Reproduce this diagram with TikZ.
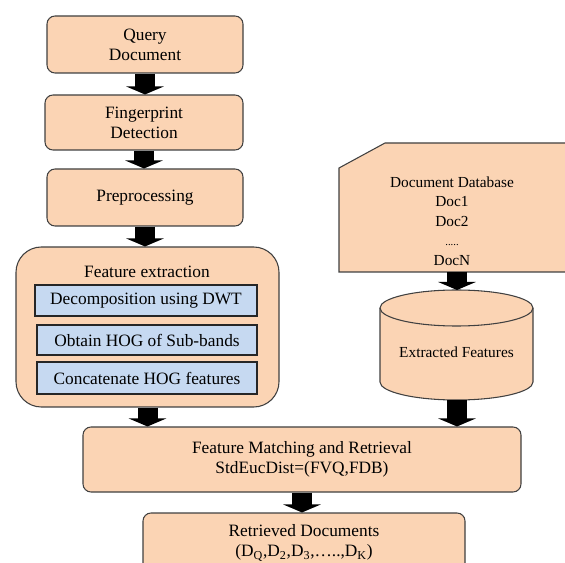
\documentclass[tikz,border=0pt]{standalone}
\usepackage{fontspec}
\setmainfont{Liberation Serif}
\usetikzlibrary{arrows.meta,calc}
\definecolor{peach}{HTML}{FBD4B4}
\definecolor{lblue}{HTML}{C6D9F1}
\definecolor{edgec}{HTML}{404040}
\begin{document}
\begin{tikzpicture}[x=0.75pt,y=-0.75pt,
 box/.style={draw=edgec,fill=peach,line width=0.8pt,rounded corners=6pt,align=center,font=\fontsize{13}{15}\selectfont,inner sep=0pt},
 subbox/.style={draw=black!85,fill=lblue,line width=0.8pt,align=center,font=\fontsize{13}{15}\selectfont,inner sep=0pt},
 smalltext/.style={align=center,font=\fontsize{11.5}{14.6}\selectfont,inner sep=0pt},
 barrow/.style={line width=15pt,-{Triangle[length=6pt,width=28pt]}},
 ]
\useasboundingbox (0,0) rectangle (565,563);
% left column
\node[box,minimum width=147pt,minimum height=42.75pt] (q) at (145,44.5) {Query\\Document};
\node[box,minimum width=148.5pt,minimum height=41.25pt] (f) at (144,122.5) {Fingerprint\\Detection};
\node[box,minimum width=147pt,minimum height=42.75pt] (p) at (145,197.5) {Preprocessing};
\node[box,rounded corners=19pt,minimum width=197.25pt,minimum height=120pt] (fe) at (147.5,327) {};
\node[font=\fontsize{13}{15}\selectfont,inner sep=0pt] (fet) at (147,272) {Feature extraction};
\node[subbox,minimum width=166.5pt,minimum height=23.25pt] (s1) at (146,300.5) {Decomposition using DWT};
\node[subbox,minimum width=165pt,minimum height=22.5pt] (s2) at (147,340) {Obtain HOG of Sub-bands};
\node[subbox,minimum width=165pt,minimum height=24pt] (s3) at (147,378) {Concatenate HOG features};
% bottom
\node[box,minimum width=328.5pt,minimum height=48.75pt] (m) at (302,459.5) {Feature Matching and Retrieval\\StdEucDist=(FVQ,FDB)};
\node[box,minimum width=241.5pt,minimum height=45pt] (r) at (304,543) {Retrieved Documents\\(D\textsubscript{Q},D\textsubscript{2},D\textsubscript{3},\dots..,D\textsubscript{K})};
% document database
\draw[draw=edgec,fill=peach,line width=0.8pt] (339,168) -- (385,143) -- (575,143) -- (575,272) -- (339,272) -- cycle;
\node[smalltext] (db) at (452,221) {Document Database\\Doc1\\Doc2\\{\fontsize{8}{10}\selectfont .....}\\DocN};
\coordinate (dbbot) at (457,272);
% cylinder
\draw[draw=edgec,fill=peach,line width=0.8pt] (380,308) -- (380,382) arc[start angle=180,end angle=0,x radius=76.5,y radius=18] -- (533,308) arc[start angle=0,end angle=-180,x radius=76.5,y radius=18] -- cycle;
\draw[draw=edgec,line width=0.8pt] (380,308) arc[start angle=180,end angle=0,x radius=76.5,y radius=18];
\node[smalltext] (cyl) at (456.5,352) {Extracted Features};
\coordinate (cyltop) at (457,290);
\coordinate (cylbot) at (457,400);
% arrows
\draw[barrow] (q.south) -- (q.south |- f.north);
\draw[barrow] (f.south) -- (f.south |- p.north);
\draw[barrow] (p.south) -- (p.south |- fe.north);
\draw[barrow] (fe.south) -- (fe.south |- m.north);
\draw[barrow] (dbbot) -- (cyltop);
\draw[barrow] (cylbot) -- (cylbot |- m.north);
\draw[barrow] (m.south) -- (m.south |- r.north);
\end{tikzpicture}
\end{document}
